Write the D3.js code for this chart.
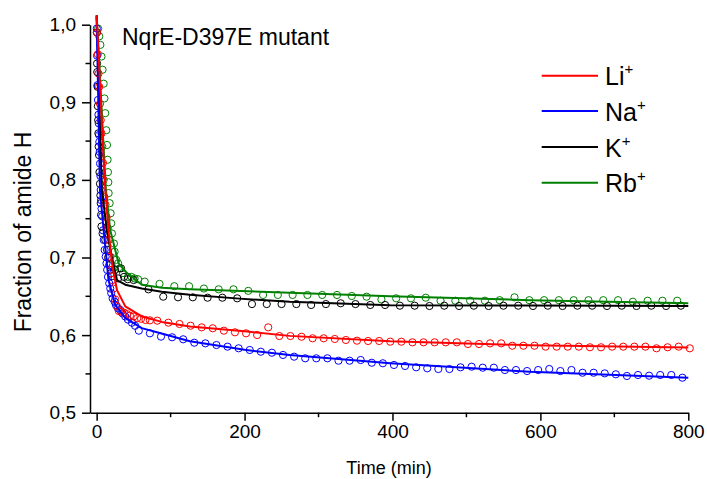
<!DOCTYPE html>
<html><head><meta charset="utf-8">
<script src="https://cdn.jsdelivr.net/npm/d3@7"></script>
<style>
body{margin:0;background:#fff;}
svg{display:block;}
text{font-family:"Liberation Sans",Arial,Helvetica,sans-serif;fill:#000;}
</style>
</head><body>
<svg id="chart" width="707" height="479"></svg>
<script>
// ---- Data ----
const xTicks = [0, 200, 400, 600, 800];
const xMinorTicks = [100, 300, 500, 700];
const yTicks = [0.5, 0.6, 0.7, 0.8, 0.9, 1.0];
const yMinorTicks = [0.55, 0.65, 0.75, 0.85, 0.95];
const titleText = "NqrE-D397E mutant";
const xLabel = "Time (min)";
const yLabel = "Fraction of amide H";
const seriesNames = ["Li", "Na", "K", "Rb"];
const seriesColors = ["#ff0000", "#0000ff", "#000000", "#008000"];

// measured points [time (min), fraction]
const liPoints = [[0.5,0.99],[1.5,0.962],[2.5,0.937],[3.5,0.92],[4.5,0.898],[5.5,0.877],[6.5,0.86],[7.5,0.843],[8.5,0.822],[9.5,0.80],[10.5,0.778],[12,0.768],[13.5,0.752],[15,0.738],[16.5,0.7226],[18,0.701],[19.5,0.684],[21,0.671],[22.5,0.66],[25,0.646],[27.5,0.637],[30,0.631],[33,0.630],[37,0.629],[41,0.627],[45,0.625],[50,0.624],[55,0.622],[60,0.621],[66,0.6195],[72,0.619],
[82,0.6186],[97,0.616],[112,0.6143],[127,0.6121],[142,0.610],[157,0.6088],[172,0.6057],[187,0.6036],[202,0.6023],[217,0.6001],[232,0.610],[247,0.5988],[262,0.5988],[277,0.5979],[292,0.5959],[307,0.5959],[322,0.595],[337,0.5937],[352,0.5928],[367,0.5924],[382,0.5924],[397,0.5915],[412,0.5915],[427,0.5907],[442,0.5907],[457,0.5907],[472,0.5907],[487,0.5907],[502,0.5885],[517,0.5885],[532,0.5894],[547,0.5894],[562,0.5863],[577,0.5863],[592,0.5863],[607,0.5851],[622,0.5851],[637,0.5851],[652,0.5851],[667,0.5843],[682,0.5843],[697,0.5851],[712,0.5851],[727,0.5851],[742,0.5851],[757,0.583],[772,0.5843],[787,0.5851],[802,0.583]];

const naPoints = [[0.2,0.995],[0.6,0.96],[1,0.922],[1.8,0.903],[2.4,0.884],[2.8,0.873],[3.2,0.858],[3.6,0.849],[4.1,0.836],[4.6,0.821],[5.1,0.805],[5.5,0.787],[6,0.774],[6.6,0.763],[7.4,0.753],[8.5,0.735],[9.5,0.7226],[10.8,0.7097],[12.2,0.701],[13.3,0.6925],[14.2,0.684],[15.3,0.675],[17,0.6667],[18.4,0.66],[19.7,0.654],[21.6,0.6474],[24.3,0.643],[26.1,0.6388],[28.8,0.6345],[32,0.6323],[35,0.628],[38.7,0.624],[42.3,0.62],[47.7,0.616],[52,0.612],
[57,0.6057],[72,0.6023],[87,0.598],[102,0.5972],[117,0.5946],[132,0.5902],[147,0.5894],[162,0.5872],[177,0.5851],[192,0.583],[207,0.5808],[222,0.5786],[237,0.5773],[252,0.5744],[267,0.5722],[282,0.5701],[297,0.5701],[312,0.5701],[327,0.567],[342,0.567],[357,0.5679],[372,0.5644],[387,0.5637],[402,0.5615],[417,0.5602],[432,0.5585],[447,0.5572],[462,0.5563],[477,0.5563],[492,0.5585],[507,0.5593],[522,0.558],[537,0.558],[552,0.555],[567,0.555],[582,0.5537],[597,0.555],[612,0.5563],[627,0.5537],[642,0.555],[657,0.5515],[672,0.5515],[687,0.5507],[702,0.5495],[717,0.5473],[732,0.5486],[747,0.5477],[762,0.5486],[777,0.5486],[792,0.5451]];

const kPoints = [[0.3,0.99],[0.5,0.95],[0.8,0.939],[1.2,0.92],[1.6,0.895],[2,0.877],[2.3,0.86],[2.7,0.843],[3.2,0.832],[3.8,0.81],[4.5,0.795],[5,0.78],[5.5,0.77],[6,0.755],[6.5,0.74],[8,0.731],[11.6,0.7226],[14,0.71],[15.5,0.70],[17,0.69],[19,0.6796],[21,0.676],[25,0.684],[29,0.673],[33,0.686],[37,0.675],[42,0.672],
[50,0.671],[70,0.659],[90,0.6495],[110,0.6487],[130,0.6487],[150,0.6482],[170,0.6482],[190,0.6474],[210,0.640],[230,0.640],[250,0.640],[270,0.640],[290,0.6388],[310,0.640],[330,0.641],[350,0.640],[370,0.6388],[390,0.6388],[410,0.6379],[430,0.6379],[450,0.6375],[470,0.6379],[490,0.6375],[510,0.6379],[530,0.6375],[550,0.6379],[570,0.6379],[590,0.6375],[610,0.6379],[630,0.6375],[650,0.6379],[670,0.6379],[690,0.6375],[710,0.6379],[730,0.6375],[750,0.6379],[770,0.6375],[790,0.6379]];

const rbPoints = [[2,0.995],[3.5,0.985],[5,0.974],[6.5,0.959],[8,0.942],[9.5,0.924],[10.5,0.905],[11.6,0.886],[13,0.864],[14,0.845],[14.8,0.826],[15.3,0.81],[15.8,0.797],[16.2,0.783],[17.6,0.77],[18.9,0.757],[19.7,0.744],[20.7,0.731],[23.4,0.718],[24.3,0.7075],[26.5,0.697],[29,0.6925],[31.1,0.686],[35.6,0.68],[42.3,0.675],[47,0.675],[51.4,0.673],[56,0.672],
[65,0.669],[85,0.666],[105,0.663],[125,0.663],[145,0.660],[165,0.659],[185,0.659],[205,0.657],[225,0.6517],[245,0.6517],[265,0.6517],[285,0.6517],[305,0.6517],[325,0.6517],[345,0.6504],[365,0.6495],[385,0.646],[405,0.6474],[425,0.6474],[445,0.6482],[465,0.6443],[485,0.6443],[505,0.6443],[525,0.6443],[545,0.645],[565,0.6487],[585,0.645],[605,0.645],[625,0.645],[645,0.645],[665,0.645],[685,0.645],[705,0.645],[725,0.643],[745,0.6443],[765,0.6443],[785,0.6443]];

// fitted curves [time, fraction]
const liFit = [[0,1.012],[10.8,0.80],[16,0.735],[20.7,0.6925],[27.5,0.658],[38.7,0.637],[61,0.624],[88,0.617],[126,0.611],[200,0.605],[261,0.599],[397,0.592],[586,0.587],[800,0.584]];
const naFit = [[0,1.01],[4.5,0.787],[9.5,0.735],[16,0.671],[25,0.639],[39,0.622],[61,0.609],[84,0.603],[126,0.592],[200,0.581],[261,0.5744],[397,0.5637],[586,0.5528],[800,0.545]];
const kFit = [[0,1.012],[7,0.787],[13.9,0.735],[18.4,0.71],[27.5,0.671],[38.7,0.665],[61,0.660],[88,0.656],[126,0.652],[193,0.647],[261,0.643],[397,0.6385],[586,0.638],[800,0.6375]];
const rbFit = [[0,1.012],[12.5,0.787],[18.4,0.735],[29.7,0.6925],[38.7,0.682],[61,0.665],[88,0.661],[126,0.659],[261,0.6546],[397,0.650],[586,0.645],[800,0.641]];

const pointSets = [liPoints, naPoints, kPoints, rbPoints];
const fitSets = [liFit, naFit, kFit, rbFit];

// ---- Chart ----
const svg = d3.select("#chart");
svg.append("rect").attr("width",707).attr("height",479).attr("fill","#fff");

const x = d3.scaleLinear().domain([-9, 800]).range([90, 688.3]);
const y = d3.scaleLinear().domain([0.5, 1.0]).range([412.7, 24.7]);

// points
const drawOrder = [3, 2, 1, 0];
drawOrder.forEach(i => {
  svg.append("g").selectAll("circle").data(pointSets[i]).join("circle")
    .attr("cx", d => x(d[0])).attr("cy", d => y(d[1])).attr("r", 3.6)
    .attr("fill", "none").attr("stroke", seriesColors[i]).attr("stroke-width", 1);
});
// fit lines
const line = d3.line().x(d => x(d[0])).y(d => y(d[1]));
drawOrder.forEach(i => {
  svg.append("path").datum(fitSets[i]).attr("d", line)
    .attr("fill", "none").attr("stroke", seriesColors[i]).attr("stroke-width", 2)
    .attr("stroke-linejoin", "round");
});

// axes
const fmtY = d => d3.format(".1f")(d).replace(".", ",");
const xAxis = svg.append("g").attr("transform", "translate(0,412.7)")
  .call(d3.axisBottom(x).tickValues(xTicks).tickSize(8).tickSizeOuter(0).tickPadding(4).tickFormat(d3.format("d")));
xAxis.append("g").selectAll("line").data(xMinorTicks).join("line")
  .attr("x1", d => x(d)).attr("x2", d => x(d)).attr("y1", 0).attr("y2", 4.5).attr("stroke", "#000").attr("stroke-width", 1.5);
const yAxis = svg.append("g").attr("transform", "translate(90,0)")
  .call(d3.axisLeft(y).tickValues(yTicks).tickSize(8).tickSizeOuter(0).tickPadding(6).tickFormat(fmtY));
yAxis.append("g").selectAll("line").data(yMinorTicks).join("line")
  .attr("y1", d => y(d)).attr("y2", d => y(d)).attr("x1", 0).attr("x2", -4.5).attr("stroke", "#000").attr("stroke-width", 1.5);
[xAxis, yAxis].forEach(a => {
  a.select(".domain").attr("stroke", "#000").attr("stroke-width", 1.5);
  a.selectAll(".tick line").attr("stroke", "#000").attr("stroke-width", 1.5);
  a.selectAll("text").attr("font-size", 19).attr("font-family", "'Liberation Sans', Arial, sans-serif").attr("fill", "#000");
});
xAxis.selectAll(".tick text").attr("dy", "0.71em");

// labels
svg.append("text").attr("x", 389).attr("y", 474).attr("text-anchor", "middle")
  .attr("font-size", 18).text(xLabel);
svg.append("text").attr("transform", "translate(31,232) rotate(-90)").attr("text-anchor", "middle")
  .attr("font-size", 23).text(yLabel);
svg.append("text").attr("x", 122).attr("y", 45).attr("font-size", 23).text(titleText);

// legend
const legY = [75.7, 111, 147, 182.7];
seriesNames.forEach((n, i) => {
  svg.append("line").attr("x1", 541.7).attr("x2", 598).attr("y1", legY[i]).attr("y2", legY[i])
    .attr("stroke", seriesColors[i]).attr("stroke-width", 2);
  const t = svg.append("text").attr("x", 605).attr("y", legY[i] + 9.5).attr("font-size", 25);
  t.append("tspan").text(n);
  t.append("tspan").attr("font-size", 15).attr("dy", -11).text("+");
});
</script>
</body></html>
